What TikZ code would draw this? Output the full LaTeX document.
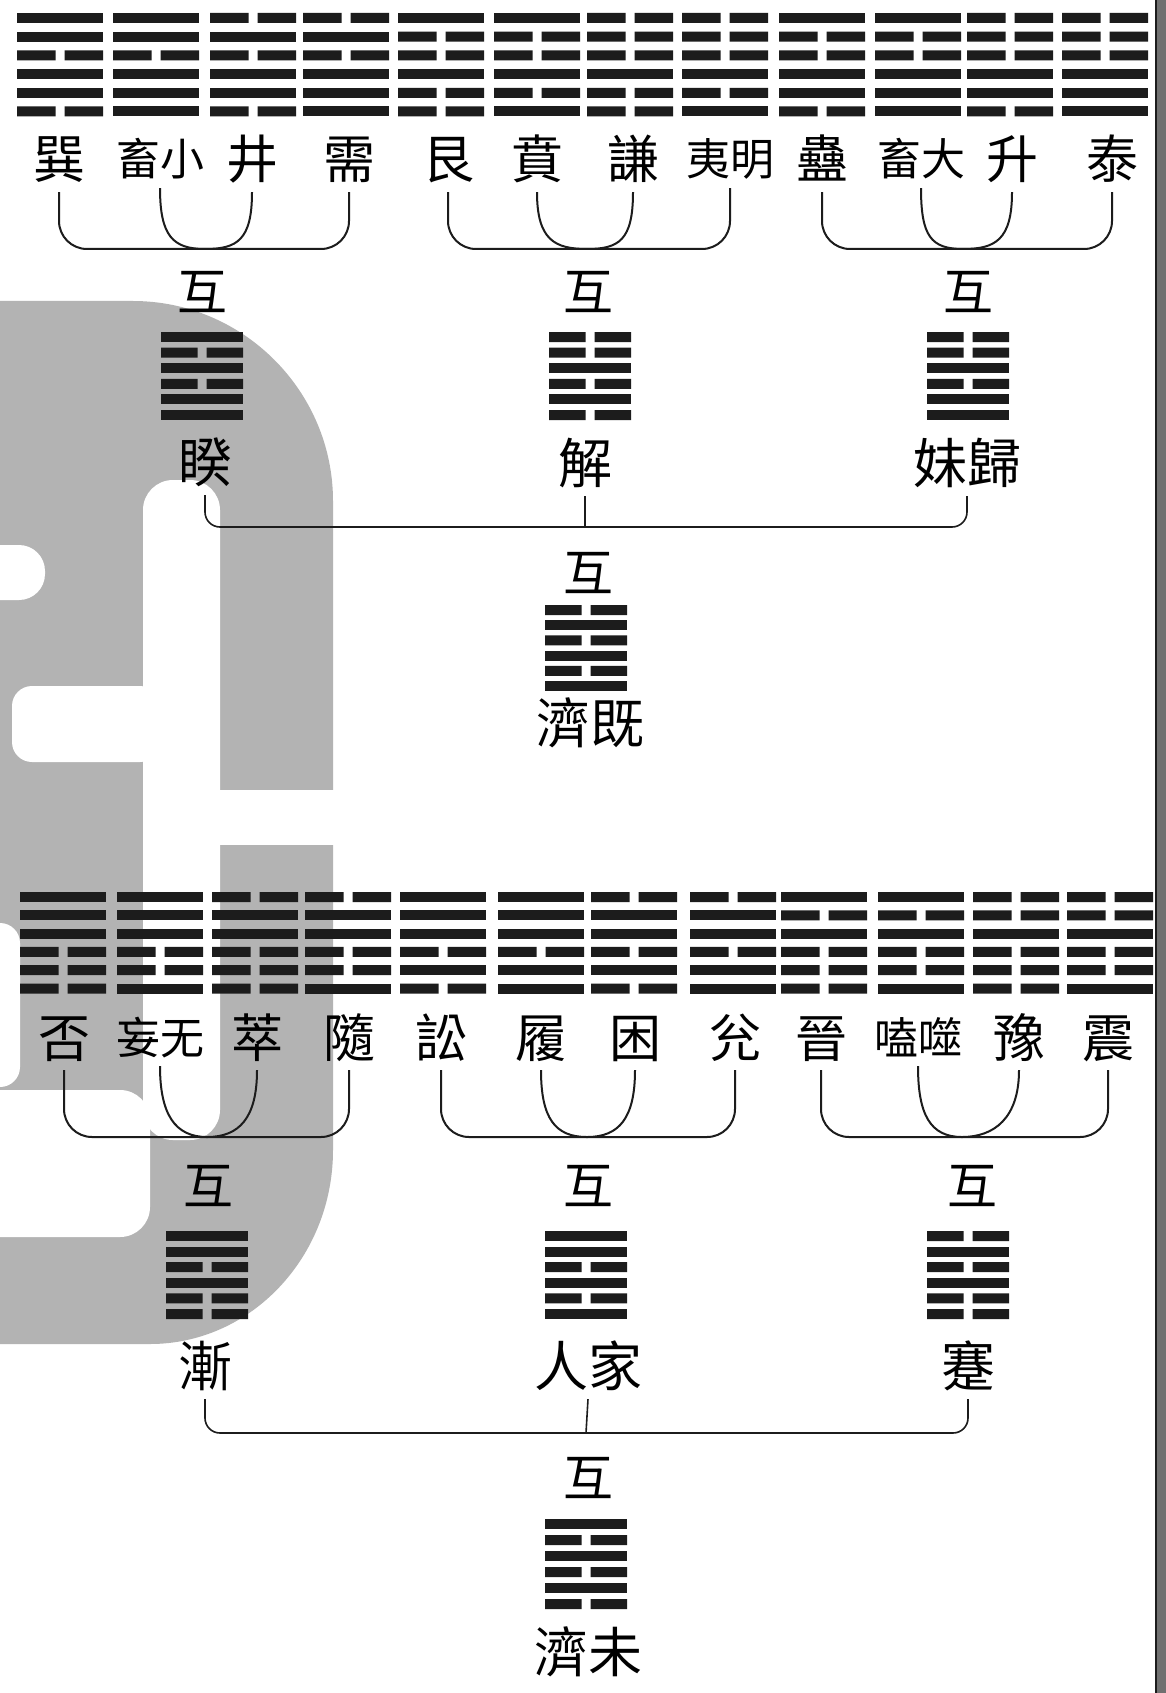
\documentclass[tikz,border=0pt]{standalone}
\usepackage{fontspec}
\setmainfont{Noto Sans CJK TC}
\usetikzlibrary{positioning}
\definecolor{inkblack}{HTML}{1C1C1C}
\definecolor{stampgray}{HTML}{B3B3B3}
\definecolor{edgegray}{HTML}{707070}

% #1 name, #2 centre x, #3 top y, #4 line pitch, #5 width, #6 lines from top (1 = whole, 0 = broken)
\newcommand{\gua}[6]{%
  \node[inner sep=0pt, minimum width=#5, minimum height=5*#4+10] (#1) at (#2,#3+2.5*#4+5) {};
  \foreach \b [count=\k from 0] in {#6} {
    \pgfmathsetmacro{\yt}{#3+\k*#4}
    \ifnum\b=1
      \fill[inkblack] (#2-#5/2,\yt) rectangle (#2+#5/2,\yt+10);
    \else
      \fill[inkblack] (#2-#5/2,\yt) rectangle (#2-4.5,\yt+10) (#2+4.5,\yt) rectangle (#2+#5/2,\yt+10);
    \fi
  }%
}

\begin{document}
\begin{tikzpicture}[x=1pt, y=-1pt,
    onechar/.style={inner sep=0pt, font=\fontsize{52}{52}\selectfont, text height=45pt, text depth=7pt},
    twochar/.style={inner sep=0pt, font=\fontsize{44}{44}\selectfont, text height=38pt, text depth=6pt},
    bigname/.style={inner sep=0pt, font=\fontsize{54}{54}\selectfont, text height=47pt, text depth=7pt},
    hulabel/.style={inner sep=0pt, font=\fontsize{50}{50}\selectfont, text height=44pt, text depth=6pt},
    bracket/.style={draw=inkblack, line width=2pt},
    joinline/.style={draw=inkblack, line width=1.6pt}
]
\useasboundingbox (0,0) rectangle (1166,1693);
\fill[white] (0,0) rectangle (1166,1693);

% library stamp behind the page
\fill[stampgray] (0,301) -- (133,301) .. controls (243,301) and (333,391) .. (333,501) -- (333,1150)
  .. controls (333,1257) and (251,1344) .. (150,1344) -- (0,1344) -- cycle;
\fill[white, rounded corners=30pt] (143,480) rectangle (220,1140);
\fill[white, rounded corners=26pt] (-40,545) rectangle (45,600);
\fill[white, rounded corners=20pt] (12,686) rectangle (160,762);
\fill[white] (220,790) rectangle (340,845);
\fill[white, rounded corners=20pt] (-40,923) rectangle (20,1087);
\fill[white, rounded corners=30pt] (-40,1090) rectangle (150,1237);

% page edge
\fill[edgegray] (1156,0) rectangle (1166,1693);
\draw[inkblack, line width=2.5pt] (1156,0) -- (1156,1693);

% upper table
\gua{h0}{60}{13}{18.7}{86}{1,1,0,1,1,0}
\gua{h1}{156}{13}{18.7}{86}{1,1,0,1,1,1}
\gua{h2}{253}{13}{18.7}{86}{0,1,0,1,1,0}
\gua{h3}{346}{13}{18.7}{86}{0,1,0,1,1,1}
\gua{h4}{441}{13}{18.7}{86}{1,0,0,1,0,0}
\gua{h5}{537}{13}{18.7}{86}{1,0,0,1,0,1}
\gua{h6}{630}{13}{18.7}{86}{0,0,0,1,0,0}
\gua{h7}{725}{13}{18.7}{86}{0,0,0,1,0,1}
\gua{h8}{822}{13}{18.7}{86}{1,0,0,1,1,0}
\gua{h9}{918}{13}{18.7}{86}{1,0,0,1,1,1}
\gua{h10}{1010}{13}{18.7}{86}{0,0,0,1,1,0}
\gua{h11}{1105}{13}{18.7}{86}{0,0,0,1,1,1}

\node[onechar] (n0) at (59,160) {巽};
\node[twochar] (n1) at (160,160) {畜小};
\node[onechar] (n2) at (252,160) {井};
\node[onechar] (n3) at (349,160) {需};
\node[onechar] (n4) at (448,160) {艮};
\node[onechar] (n5) at (537,160) {賁};
\node[onechar] (n6) at (633,160) {謙};
\node[twochar] (n7) at (730,160) {夷明};
\node[onechar] (n8) at (822,160) {蠱};
\node[twochar] (n9) at (921,160) {畜大};
\node[onechar] (n10) at (1012,160) {升};
\node[onechar] (n11) at (1112,160) {泰};

\coordinate (m0) at (205,249);
\coordinate (m1) at (587,249);
\coordinate (m2) at (963,249);
\draw[bracket, rounded corners=28pt] ([yshift=-6pt]n0.south) |- (m0) -| ([yshift=-6pt]n3.south);
\draw[bracket] ([yshift=-6pt]n1.south) .. controls +(0,48) and +(-32,0) .. (m0) .. controls +(32,0) and +(0,48) .. ([yshift=-6pt]n2.south);
\draw[bracket, rounded corners=28pt] ([yshift=-6pt]n4.south) |- (m1) -| ([yshift=-6pt]n7.south);
\draw[bracket] ([yshift=-6pt]n5.south) .. controls +(0,48) and +(-32,0) .. (m1) .. controls +(32,0) and +(0,48) .. ([yshift=-6pt]n6.south);
\draw[bracket, rounded corners=28pt] ([yshift=-6pt]n8.south) |- (m2) -| ([yshift=-6pt]n11.south);
\draw[bracket] ([yshift=-6pt]n9.south) .. controls +(0,48) and +(-32,0) .. (m2) .. controls +(32,0) and +(0,48) .. ([yshift=-6pt]n10.south);

\node[hulabel] (u0) at (202,292) {互};
\node[hulabel] (u1) at (588,292) {互};
\node[hulabel] (u2) at (968,292) {互};
\gua{k0}{202}{332}{15.6}{82}{1,0,1,0,1,1}
\gua{k1}{590}{332}{15.6}{82}{0,0,1,0,1,0}
\gua{k2}{968}{332}{15.6}{82}{0,0,1,0,1,1}
\node[bigname] (kn0) at (205,462) {睽};
\node[bigname] (kn1) at (585,463) {解};
\node[bigname] (kn2) at (967,463) {妹歸};

\coordinate (j0) at (585,527);
\draw[joinline, rounded corners=15pt] ([yshift=-6pt]kn0.south) |- (j0) -| ([yshift=-6pt]kn2.south);
\draw[joinline] ([yshift=-6pt]kn1.south) -- (j0);

\node[hulabel] (v0) at (588,572) {互};
\gua{top}{586}{605}{15.2}{82}{0,1,0,1,0,1}
\node[bigname] (topn) at (590,723) {濟既};

% lower table
\gua{g0}{63}{892}{18.3}{86}{1,1,1,0,0,0}
\gua{g1}{160}{892}{18.3}{86}{1,1,1,0,0,1}
\gua{g2}{255}{892}{18.3}{86}{0,1,1,0,0,0}
\gua{g3}{348}{892}{18.3}{86}{0,1,1,0,0,1}
\gua{g4}{443}{892}{18.3}{86}{1,1,1,0,1,0}
\gua{g5}{541}{892}{18.3}{86}{1,1,1,0,1,1}
\gua{g6}{634}{892}{18.3}{86}{0,1,1,0,1,0}
\gua{g7}{733}{892}{18.3}{86}{0,1,1,0,1,1}
\gua{g8}{824}{892}{18.3}{86}{1,0,1,0,0,0}
\gua{g9}{921}{892}{18.3}{86}{1,0,1,0,0,1}
\gua{g10}{1016}{892}{18.3}{86}{0,0,1,0,0,0}
\gua{g11}{1110}{892}{18.3}{86}{0,0,1,0,0,1}

\node[onechar] (p0) at (64,1038) {否};
\node[twochar] (p1) at (160,1038) {妄无};
\node[onechar] (p2) at (257,1038) {萃};
\node[onechar] (p3) at (349,1038) {隨};
\node[onechar] (p4) at (441,1038) {訟};
\node[onechar] (p5) at (541,1038) {履};
\node[onechar] (p6) at (635,1038) {困};
\node[onechar] (p7) at (735,1038) {兊};
\node[onechar] (p8) at (821,1038) {晉};
\node[twochar] (p9) at (918,1038) {嗑噬};
\node[onechar] (p10) at (1019,1038) {豫};
\node[onechar] (p11) at (1108,1038) {震};

\coordinate (q0) at (207,1137);
\coordinate (q1) at (587,1137);
\coordinate (q2) at (962,1137);
\draw[bracket, rounded corners=28pt] ([yshift=-6pt]p0.south) |- (q0) -| ([yshift=-6pt]p3.south);
\draw[bracket] ([yshift=-6pt]p1.south) .. controls +(0,48) and +(-32,0) .. (q0) .. controls +(32,0) and +(0,48) .. ([yshift=-6pt]p2.south);
\draw[bracket, rounded corners=28pt] ([yshift=-6pt]p4.south) |- (q1) -| ([yshift=-6pt]p7.south);
\draw[bracket] ([yshift=-6pt]p5.south) .. controls +(0,48) and +(-32,0) .. (q1) .. controls +(32,0) and +(0,48) .. ([yshift=-6pt]p6.south);
\draw[bracket, rounded corners=28pt] ([yshift=-6pt]p8.south) |- (q2) -| ([yshift=-6pt]p11.south);
\draw[bracket] ([yshift=-6pt]p9.south) .. controls +(0,48) and +(-32,0) .. (q2) .. controls +(32,0) and +(0,48) .. ([yshift=-6pt]p10.south);

\node[hulabel] (w0) at (208,1185) {互};
\node[hulabel] (w1) at (588,1185) {互};
\node[hulabel] (w2) at (972,1185) {互};
\gua{r0}{207}{1231}{15.6}{82}{1,1,0,1,0,0}
\gua{r1}{586}{1231}{15.6}{82}{1,1,0,1,0,1}
\gua{r2}{968}{1231}{15.6}{82}{0,1,0,1,0,0}
\node[bigname] (rn0) at (205,1366) {漸};
\node[bigname] (rn1) at (588,1366) {人家};
\node[bigname] (rn2) at (968,1366) {蹇};

\coordinate (j1) at (586,1433);
\draw[joinline, rounded corners=15pt] ([yshift=-6pt]rn0.south) |- (j1) -| ([yshift=-6pt]rn2.south);
\draw[joinline] ([yshift=-6pt]rn1.south) -- (j1);

\node[hulabel] (v1) at (588,1477) {互};
\gua{bot}{586}{1519}{16}{82}{1,0,1,0,1,0}
\node[bigname] (botn) at (588,1652) {濟未};
\end{tikzpicture}
\end{document}
